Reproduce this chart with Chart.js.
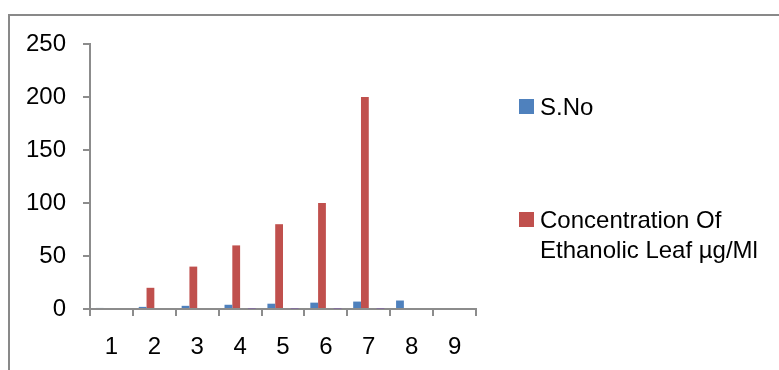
<!DOCTYPE html>
<html>
<head>
<meta charset="utf-8">
<script src="https://cdn.jsdelivr.net/npm/chart.js@4.4.0/dist/chart.umd.min.js"></script>
<style>
  body { margin: 0; background: #fff; font-family: "Liberation Sans", Arial, sans-serif; }
  #wrap { position: relative; width: 779px; height: 370px; overflow: hidden; }
  #frame { position: absolute; left: 8px; top: 14px; width: 900px; height: 500px; border: 2px solid #898989; }
  #chart { position: absolute; left: 0; top: 0; }
  .legend-item { position: absolute; left: 519px; font-size: 24px; line-height: 30px; color: #000; }
  .swatch { position: absolute; left: 0; top: 7.5px; width: 15px; height: 15px; }
  .label { position: absolute; left: 21px; top: 0; white-space: nowrap; }
</style>
</head>
<body>
<div id="wrap">
  <div id="frame"></div>
  <canvas id="chart" width="779" height="370"></canvas>
  <div id="legend"></div>
</div>
<script>
// Chart data
const categories = ["1", "2", "3", "4", "5", "6", "7", "8", "9"];
const sNo = [1, 2, 3, 4, 5, 6, 7, 8, null];
const concentration = [0, 20, 40, 60, 80, 100, 200, 0, null];
// two unlabelled series in the sheet, (near) zero, not in the legend
const series3 = [0, 0, 0, 0, 0, 0, 0, 0, null];
const series4 = [0, 0, 0, 0.3, 0.3, 0.3, 0.3, 0, null];
const yTicks = [0, 50, 100, 150, 200, 250];

const font = { family: "'Liberation Sans', Arial, sans-serif", size: 24 };
const axisGray = "#8c8c8c";

const ctx = document.getElementById("chart").getContext("2d");
const chart = new Chart(ctx, {
  type: "bar",
  data: {
    labels: categories,
    datasets: [
      { label: "S.No", data: sNo, backgroundColor: "#4F81BD" },
      { label: "Concentration Of Ethanolic Leaf µg/Ml", data: concentration, backgroundColor: "#C0504D" },
      { label: "", data: series3, backgroundColor: "#9BBB59" },
      { label: "", data: series4, backgroundColor: "#8064A2" },
    ],
  },
  options: {
    responsive: false,
    animation: false,
    layout: { padding: { left: 0, top: 44, right: 303, bottom: 8 } },
    datasets: { bar: { barPercentage: 1, categoryPercentage: 0.727 } },
    plugins: { legend: { display: false }, tooltip: { enabled: false } },
    scales: {
      x: {
        grid: { drawOnChartArea: false, color: axisGray, lineWidth: 2, tickLength: 7 },
        border: { color: axisGray, width: 2 },
        ticks: { color: "#000", font: font, padding: 17, maxRotation: 0 },
        afterFit: (s) => { s.height = 53; },
      },
      y: {
        min: 0,
        max: 250,
        afterBuildTicks: (s) => { s.ticks = yTicks.map((v) => ({ value: v })); },
        grid: { drawOnChartArea: false, color: axisGray, lineWidth: 2, tickLength: 7 },
        border: { color: axisGray, width: 2 },
        ticks: { color: "#000", font: font, padding: 17 },
        afterFit: (s) => { s.width = 90; },
      },
    },
  },
});

// Legend (only the two named series)
const legendPos = [91.5, 204.5];
const legend = document.getElementById("legend");
chart.data.datasets.slice(0, 2).forEach((ds, i) => {
  const item = document.createElement("div");
  item.className = "legend-item";
  item.style.top = legendPos[i] + "px";
  const text = i === 1 ? "Concentration Of<br>Ethanolic Leaf µg/Ml" : ds.label;
  item.innerHTML = `
    <span class="swatch" style="background:${ds.backgroundColor}"></span>
    <span class="label">${text}</span>
  `;
  legend.appendChild(item);
});
</script>
</body>
</html>
